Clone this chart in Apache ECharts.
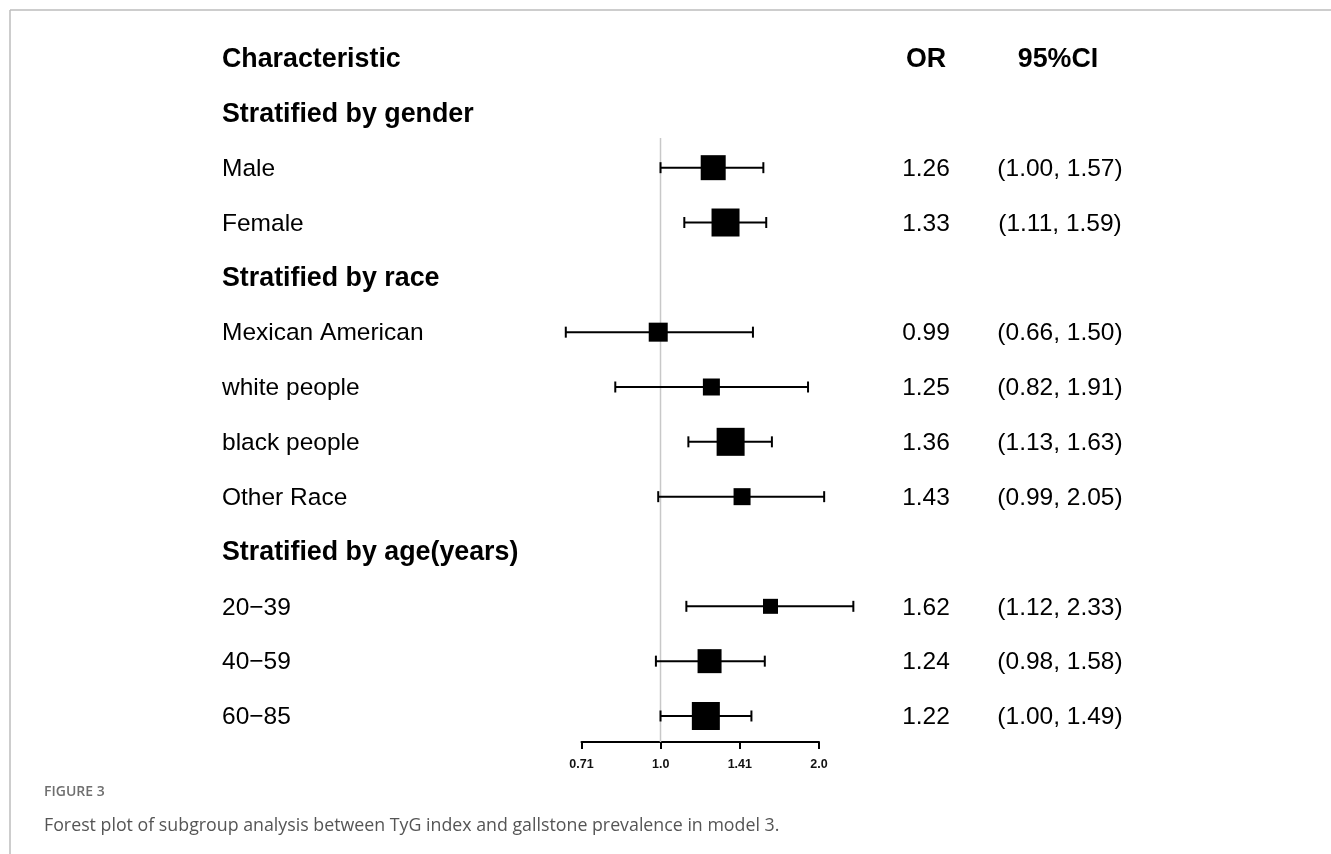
<!DOCTYPE html>
<html><head><meta charset="utf-8">
<script src="https://cdn.jsdelivr.net/npm/echarts@6/dist/echarts.min.js"></script>
<style>html,body{margin:0;padding:0;background:#fff}#c{width:1331px;height:854px}</style>
</head><body><div id="c"></div>
<script>
// ---------------- data ----------------
const columnHeaders = ['Characteristic', 'OR', '95%CI'];
const groupTitles = ['Stratified by gender', 'Stratified by race', 'Stratified by age(years)'];
const groupSizes = [2, 4, 3];
const subgroups = ['Male', 'Female', 'Mexican American', 'white people', 'black people', 'Other Race', '20\u221239', '40\u221259', '60\u221285'];
const orValues = [1.26, 1.33, 0.99, 1.25, 1.36, 1.43, 1.62, 1.24, 1.22];
const ciLower  = [1.00, 1.11, 0.66, 0.82, 1.13, 0.99, 1.12, 0.98, 1.00];
const ciUpper  = [1.57, 1.59, 1.50, 1.91, 1.63, 2.05, 2.33, 1.58, 1.49];
const boxWeights = [25, 28, 19, 17, 28, 17, 15, 24, 28];
const tickLabels = ['0.71', '1.0', '1.41', '2.0'];
const nullValue = 1;
const captionLabel = 'FIGURE 3';
const captionText = 'Forest plot of subgroup analysis between TyG index and gallstone prevalence in model 3.';

// ---------------- layout ----------------
const FONT = '"Liberation Sans", Arial, sans-serif';
const LABEL_X = 222, OR_X = 926, CI_X = 1060;
const ROW_TOP = 30.6, ROW_H = 712.8;

const textRows = [];
let r = 0;
textRows.push({ row: r++, kind: 'header' });
const itemRow = [];
let k = 0;
groupTitles.forEach((g, gi) => {
  textRows.push({ row: r++, kind: 'group', text: g });
  for (let j = 0; j < groupSizes[gi]; j++) {
    itemRow[k] = r;
    textRows.push({ row: r++, kind: 'item', idx: k });
    k++;
  }
});
const nRows = r;

const chart = echarts.init(document.getElementById('c'), null, { renderer: 'canvas' });

function txt(x, y, s, opt) {
  return {
    type: 'text', x: x, y: y + 1.5,
    style: Object.assign({ text: s, fill: '#000', font: '24.5px ' + FONT, textAlign: 'left', textVerticalAlign: 'middle' }, opt || {})
  };
}

const option = {
  backgroundColor: '#fff',
  animation: false,
  grid: [
    { left: 0, width: 1331, top: ROW_TOP, height: ROW_H },
    { left: 502.5, width: 366.9, top: ROW_TOP, height: ROW_H },
    { left: 581.5, width: 237.5, top: 700, height: 42 }
  ],
  xAxis: [
    { gridIndex: 0, type: 'value', min: 0, max: 1331, show: false },
    { gridIndex: 1, type: 'log', logBase: 2, min: 0.5, max: 2.5, show: false },
    { gridIndex: 2, type: 'log', logBase: Math.SQRT2, min: Math.SQRT1_2, max: 2, position: 'bottom',
      splitLine: { show: false },
      axisLine: { show: true, lineStyle: { color: '#000', width: 2 } },
      axisTick: { show: true, inside: false, length: 7, lineStyle: { color: '#000', width: 2 } },
      minorTick: { show: false },
      axisLabel: { show: true, margin: 16, color: '#111', fontSize: 12.5, fontWeight: 'bold', fontFamily: FONT,
        formatter: (v, i) => tickLabels[i] }
    }
  ],
  yAxis: [
    { gridIndex: 0, type: 'value', min: -0.5, max: nRows - 0.5, inverse: true, show: false },
    { gridIndex: 1, type: 'value', min: -0.5, max: nRows - 0.5, inverse: true, show: false },
    { gridIndex: 2, type: 'value', min: 0, max: 1, show: false }
  ],
  graphic: [
    { type: 'line', shape: { x1: 10, y1: 10, x2: 1331, y2: 10 }, style: { stroke: '#bdbdbd', lineWidth: 1.5 } },
    { type: 'line', shape: { x1: 10, y1: 10, x2: 10, y2: 854 }, style: { stroke: '#bdbdbd', lineWidth: 1.5 } },
    { type: 'text', x: 44, y: 792, style: { text: captionLabel, fill: '#6f6f6f', font: '600 14px "Open Sans", sans-serif', textVerticalAlign: 'middle' } },
    { type: 'text', x: 44, y: 826, style: { text: captionText, fill: '#555', font: '17.8px "Open Sans", sans-serif', textVerticalAlign: 'middle' } }
  ],
  series: [
    {
      type: 'custom', xAxisIndex: 0, yAxisIndex: 0, clip: false, z: 1,
      data: textRows.map(t => [0, t.row]),
      encode: { x: 0, y: 1 },
      renderItem: function (params, api) {
        const t = textRows[params.dataIndex];
        const y = api.coord([0, t.row])[1];
        const bold = 'bold 26.8px ' + FONT;
        if (t.kind === 'header') {
          return { type: 'group', children: [
            txt(LABEL_X, y, columnHeaders[0], { font: bold }),
            txt(OR_X, y, columnHeaders[1], { font: bold, textAlign: 'center' }),
            txt(CI_X - 2, y, columnHeaders[2], { font: bold, textAlign: 'center' })
          ] };
        }
        if (t.kind === 'group') {
          return { type: 'group', children: [ txt(LABEL_X, y, t.text, { font: bold }) ] };
        }
        const i = t.idx;
        return { type: 'group', children: [
          txt(LABEL_X, y, subgroups[i]),
          txt(OR_X, y, orValues[i].toFixed(2), { textAlign: 'center' }),
          txt(CI_X, y, '(' + ciLower[i].toFixed(2) + ', ' + ciUpper[i].toFixed(2) + ')', { textAlign: 'center' })
        ] };
      }
    },
    {
      type: 'line', xAxisIndex: 1, yAxisIndex: 1, symbol: 'none', silent: true, z: 1,
      data: [[nullValue, 1.46], [nullValue, nRows - 0.525]],
      lineStyle: { color: '#c8c8c8', width: 1.5 }
    },
    {
      type: 'custom', xAxisIndex: 1, yAxisIndex: 1, clip: false, z: 4,
      data: subgroups.map((s, i) => [ciLower[i], ciUpper[i], itemRow[i]]),
      encode: { x: [0, 1], y: 2 },
      renderItem: function (params, api) {
        const lo = api.coord([api.value(0), api.value(2)]);
        const hi = api.coord([api.value(1), api.value(2)]);
        const cap = 5.5;
        const st = { stroke: '#000', lineWidth: 2 };
        return { type: 'group', children: [
          { type: 'line', shape: { x1: lo[0], y1: lo[1], x2: hi[0], y2: hi[1] }, style: st },
          { type: 'line', shape: { x1: lo[0], y1: lo[1] - cap, x2: lo[0], y2: lo[1] + cap }, style: st },
          { type: 'line', shape: { x1: hi[0], y1: hi[1] - cap, x2: hi[0], y2: hi[1] + cap }, style: st }
        ] };
      }
    },
    {
      type: 'scatter', xAxisIndex: 1, yAxisIndex: 1, symbol: 'rect', z: 6,
      data: subgroups.map((s, i) => [orValues[i], itemRow[i], boxWeights[i]]),
      symbolSize: v => v[2],
      itemStyle: { color: '#000', opacity: 1 }
    },
    {
      type: 'scatter', xAxisIndex: 2, yAxisIndex: 2, data: [], silent: true
    }
  ]
};
chart.setOption(option);
</script>
</body></html>
